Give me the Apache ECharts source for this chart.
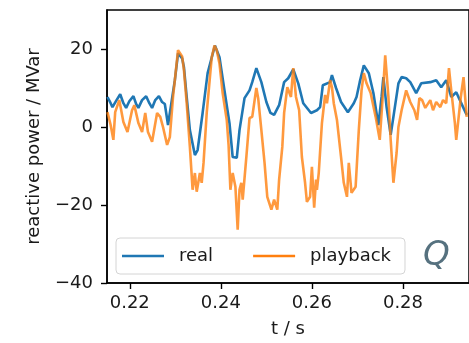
<!DOCTYPE html>
<html>
<head>
<meta charset="utf-8">
<script src="https://cdn.jsdelivr.net/npm/echarts@6/dist/echarts.min.js"></script>
<style>
  html, body { margin: 0; padding: 0; background: #fff; }
  #chart { width: 469px; height: 343px; }
</style>
</head>
<body>
<div id="chart"></div>
<script>
var chart = echarts.init(document.getElementById('chart'));

// tick positions
let xTicks = [0.22, 0.24, 0.26, 0.28];
let yTicks = [-40, -20, 0, 20];

// real (measured) reactive power, [t, Q]
let real = [
  [0.2151,7.7],[0.2158,6.1],[0.2162,5.1],[0.2171,6.9],[0.2179,8.4],[0.2186,6.1],[0.2192,4.9],[0.2199,6.6],
  [0.2208,7.9],[0.2214,5.9],[0.2219,4.9],[0.2227,6.9],[0.2236,7.9],[0.2243,6.1],[0.2249,4.9],[0.2256,6.9],
  [0.2264,7.9],[0.2271,6.4],[0.2277,5.9],[0.2284,0.5],[0.2293,7.4],[0.2299,12.0],[0.2306,18.9],[0.2315,17.6],
  [0.2319,15.3],[0.2325,7.7],[0.2332,-0.8],[0.2343,-7.2],[0.2349,-5.9],[0.2360,3.6],[0.2371,13.8],[0.2387,20.9],
  [0.2397,17.9],[0.2408,9.4],[0.2419,1.0],[0.2426,-7.7],[0.2435,-7.9],[0.2441,-0.8],[0.2452,7.4],[0.2463,9.4],
  [0.2469,11.5],[0.2478,15.1],[0.2489,11.5],[0.2500,6.4],[0.2509,3.6],[0.2517,3.1],[0.2528,5.6],[0.2539,11.5],
  [0.2548,12.5],[0.2559,14.8],[0.2570,11.2],[0.2581,6.1],[0.2598,3.6],[0.2611,4.3],[0.2618,5.1],[0.2624,10.7],
  [0.2640,11.5],[0.2644,13.3],[0.2653,10.0],[0.2664,6.4],[0.2679,3.8],[0.2692,6.1],[0.2698,7.7],[0.2705,11.5],
  [0.2714,15.8],[0.2725,13.8],[0.2735,8.7],[0.2746,0.5],[0.2753,7.7],[0.2757,12.8],[0.2764,5.1],[0.2773,-2.0],
  [0.2779,2.6],[0.2790,11.2],[0.2797,12.8],[0.2807,12.5],[0.2816,11.5],[0.2829,8.7],[0.2840,11.2],[0.2860,11.5],
  [0.2873,12.0],[0.2884,10.2],[0.2895,12.0],[0.2906,7.7],[0.2917,8.9],[0.2930,5.6],[0.2940,3.1]
];

// playback reactive power, [t, Q]
let playback = [
  [0.2151,3.8],[0.2158,0.5],[0.2164,-3.3],[0.2168,3.8],[0.2177,6.9],[0.2186,1.3],[0.2195,-1.3],[0.2205,4.3],
  [0.2210,5.6],[0.2219,1.0],[0.2227,-1.3],[0.2234,3.6],[0.2240,-1.3],[0.2249,-3.8],[0.2260,3.6],[0.2267,2.6],
  [0.2273,0.0],[0.2282,-4.6],[0.2288,-2.6],[0.2295,7.7],[0.2299,12.0],[0.2306,19.7],[0.2315,18.1],[0.2319,14.6],
  [0.2325,6.1],[0.2332,-5.1],[0.2338,-16.1],[0.2343,-11.8],[0.2347,-16.6],[0.2354,-11.8],[0.2358,-14.3],[0.2362,-9.2],
  [0.2369,3.6],[0.2380,17.9],[0.2386,20.9],[0.2391,19.7],[0.2397,16.3],[0.2404,8.7],[0.2413,1.8],[0.2417,-4.6],
  [0.2421,-16.1],[0.2426,-11.8],[0.2432,-15.3],[0.2437,-26.3],[0.2441,-16.1],[0.2445,-14.3],[0.2448,-18.6],[0.2456,-7.7],
  [0.2463,2.3],[0.2469,2.6],[0.2478,10.0],[0.2482,7.4],[0.2489,-0.8],[0.2496,-9.2],[0.2502,-17.9],[0.2511,-21.2],
  [0.2517,-18.6],[0.2524,-21.2],[0.2528,-13.5],[0.2535,-5.1],[0.2539,3.6],[0.2546,10.2],[0.2554,7.7],[0.2559,15.1],
  [0.2565,7.7],[0.2572,4.3],[0.2578,-7.7],[0.2585,-14.3],[0.2589,-19.2],[0.2596,-17.9],[0.2600,-10.2],[0.2605,-20.7],
  [0.2609,-13.5],[0.2611,-16.1],[0.2615,-11.8],[0.2622,1.0],[0.2629,8.2],[0.2633,6.1],[0.2640,12.0],[0.2644,10.2],
  [0.2648,6.1],[0.2655,1.8],[0.2664,-7.7],[0.2670,-14.3],[0.2677,-17.9],[0.2681,-9.2],[0.2685,-14.3],[0.2687,-16.9],
  [0.2696,-15.3],[0.2703,-0.8],[0.2709,9.4],[0.2714,13.8],[0.2720,11.2],[0.2729,8.7],[0.2740,2.6],[0.2749,-3.3],
  [0.2755,6.9],[0.2761,18.4],[0.2768,7.7],[0.2773,-3.3],[0.2779,-14.3],[0.2786,-6.6],[0.2790,0.0],[0.2797,4.3],
  [0.2807,9.4],[0.2816,6.4],[0.2825,4.3],[0.2831,1.8],[0.2836,7.4],[0.2842,6.9],[0.2849,4.9],[0.2860,6.9],
  [0.2866,4.3],[0.2873,6.4],[0.2882,5.1],[0.2888,6.9],[0.2895,6.1],[0.2901,15.1],[0.2906,9.4],[0.2914,1.0],
  [0.2917,-3.3],[0.2927,7.7],[0.2933,12.8],[0.2940,2.6]
];

let font = 'DejaVu Sans';

let option = {
    animation: false,
    title: {
        text: 'Q',
        left: 423,
        top: 239,
        padding: 0,
        textStyle: {
            fontFamily: font,
            fontStyle: 'italic',
            fontWeight: 'normal',
            fontSize: 34,
            color: '#56717f'
        }
    },
    legend: {
        left: 116,
        top: 238,
        icon: 'rect',
        itemWidth: 42,
        itemHeight: 2.5,
        itemGap: 40,
        padding: [9, 14, 9, 6],
        borderColor: '#d4d4d4',
        borderWidth: 1,
        borderRadius: 4,
        backgroundColor: 'rgba(255,255,255,0.8)',
        textStyle: {
            fontFamily: font,
            fontSize: 18,
            color: '#1a1a1a',
            padding: [0, 0, 0, 10]
        },
        data: ['real', 'playback']
    },
    grid: {
        left: 107,
        top: 10,
        right: -2,
        bottom: 59,
        show: true,
        borderColor: '#000',
        borderWidth: 1.5,
        backgroundColor: 'transparent'
    },
    xAxis: {
        type: 'value',
        min: 0.215,
        max: 0.2945,
        name: 't / s',
        nameLocation: 'middle',
        nameGap: 37,
        nameTextStyle: { fontFamily: font, fontSize: 18, color: '#1a1a1a' },
        axisLine: { show: true, onZero: false, lineStyle: { color: '#000', width: 1.5 } },
        axisTick: { show: true, length: 6, customValues: xTicks, lineStyle: { color: '#000', width: 1.4 } },
        axisLabel: {
            customValues: xTicks,
            margin: 11,
            fontFamily: font,
            fontSize: 18,
            color: '#1a1a1a',
            formatter: function (v) { return v.toFixed(2); }
        },
        splitLine: { show: false }
    },
    yAxis: {
        type: 'value',
        min: -40,
        max: 30,
        name: 'reactive power / MVar',
        nameLocation: 'middle',
        nameGap: 64,
        nameRotate: 90,
        nameTextStyle: { fontFamily: font, fontSize: 18, color: '#1a1a1a' },
        axisLine: { show: true, onZero: false, lineStyle: { color: '#000', width: 1.5 } },
        axisTick: { show: true, length: 6, customValues: yTicks, lineStyle: { color: '#000', width: 1.4 } },
        axisLabel: {
            customValues: yTicks,
            margin: 14,
            fontFamily: font,
            fontSize: 18,
            color: '#1a1a1a',
            formatter: function (v) { return String(v).replace('-', '\u2212'); }
        },
        splitLine: { show: false }
    },
    series: [
        {
            name: 'real',
            type: 'line',
            data: real,
            symbol: 'none',
            color: '#1f77b4',
            lineStyle: { color: '#1f77b4', width: 2.6 },
            z: 2
        },
        {
            name: 'playback',
            type: 'line',
            data: playback,
            symbol: 'none',
            color: '#ff7f0e',
            lineStyle: { color: '#ff7f0e', width: 2.6, opacity: 0.8 },
            z: 3
        }
    ]
};
chart.setOption(option);
</script>
</body>
</html>
